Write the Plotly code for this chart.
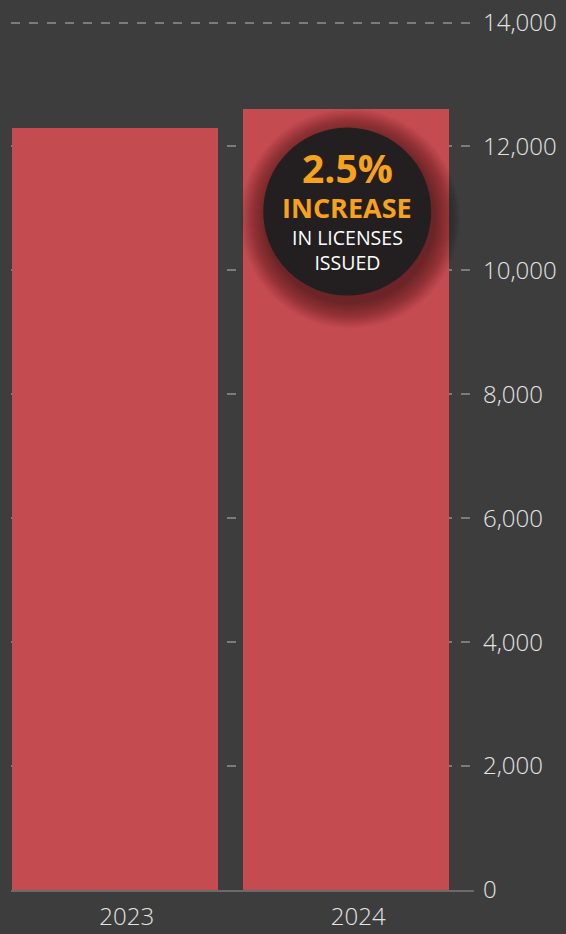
import plotly.graph_objects as go

# ---- data ----
years = ["2023", "2024"]
licenses = [12300, 12610]
y_ticks = [0, 2000, 4000, 6000, 8000, 10000, 12000, 14000]

pct = (licenses[1] / licenses[0] - 1) * 100
badge_lines = [f"{pct:.1f}%", "INCREASE", "IN LICENSES<br>ISSUED"]

BG = "#3d3d3d"
BAR = "#c44b50"
TXT = "#e4e4e4"
ORANGE = "#f6a21d"
FONT = "Open Sans"

fig = go.Figure()
fig.add_trace(go.Bar(
    x=years, y=licenses,
    marker=dict(color=BAR, line=dict(width=0)),
    width=0.89, offset=-0.497,
    hoverinfo="skip",
))

# badge (circle with soft shadow)
cx_shift = -11  # px relative to the 2024 category centre
cy_val = 10950
R = 84
shapes = []
for k in range(26, 0, -1):
    r = R + k * 1.0
    shapes.append(dict(
        type="circle", xref="x", yref="y", xsizemode="pixel", ysizemode="pixel",
        xanchor=1, yanchor=cy_val,
        x0=cx_shift - r + 3, x1=cx_shift + r + 3, y0=-r - 7, y1=r - 7,
        fillcolor="rgba(20,5,5,0.018)", line=dict(width=0), layer="above",
    ))
shapes.append(dict(
    type="circle", xref="x", yref="y", xsizemode="pixel", ysizemode="pixel",
    xanchor=1, yanchor=cy_val,
    x0=cx_shift - R, x1=cx_shift + R, y0=-R, y1=R,
    fillcolor="#231f20", line=dict(width=0), layer="above",
))

annos = []
specs = [
    (badge_lines[0], 39, ORANGE, 700, 44),
    (badge_lines[1], 27, ORANGE, 700, 4),
    (badge_lines[2], 19.5, "#ffffff", 400, -38),
]
for text, size, color, weight, dy in specs:
    annos.append(dict(
        x=1, y=cy_val, xref="x", yref="y", text=text, showarrow=False,
        xshift=cx_shift, yshift=dy, xanchor="center", yanchor="middle",
        align="center",
        font=dict(family=FONT, size=size, color=color, weight=weight),
    ))

fig.update_layout(
    width=566, height=934,
    paper_bgcolor=BG, plot_bgcolor=BG,
    margin=dict(l=11, r=92, t=21, b=44, autoexpand=False),
    showlegend=False,
    bargap=0,
    shapes=shapes,
    annotations=annos,
    font=dict(family=FONT, color=TXT),
    xaxis=dict(
        type="category", range=[-0.5, 1.5], automargin=False,
        showgrid=False, zeroline=False,
        showline=True, linecolor="#6a6a6a", linewidth=2,
        ticks="", tickfont=dict(family=FONT, size=24, color=TXT, weight=300),
        ticklabelstandoff=4,
    ),
    yaxis=dict(
        side="right", range=[0, 14025], automargin=False,
        tickvals=y_ticks, ticktext=[f"{v:,}" for v in y_ticks],
        showgrid=True, gridcolor="#7c7c7c", gridwidth=2, griddash="dash",
        zeroline=False, showline=False, ticks="",
        tickfont=dict(family=FONT, size=24, color=TXT, weight=300),
        ticklabelstandoff=8,
    ),
)

fig.write_html(
    "out.html",
    config={"displayModeBar": False},
    post_script="document.body.style.margin='0';document.body.style.background='#3d3d3d';",
)
